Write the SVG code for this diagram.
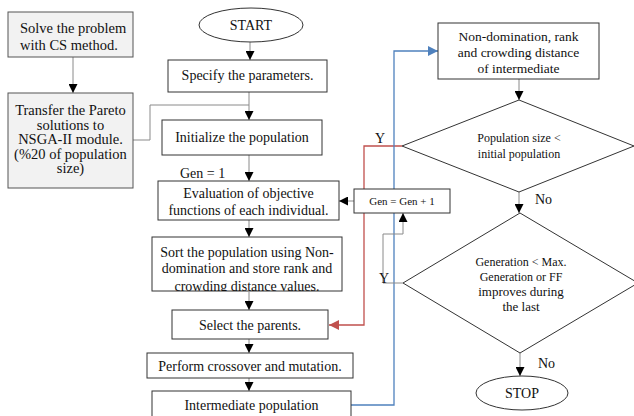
<svg xmlns="http://www.w3.org/2000/svg" width="634" height="416" viewBox="0 0 634 416">
<style>
text{font-family:'Liberation Serif','DejaVu Serif','Times New Roman',Times,serif;fill:#111;}
.t145{font-size:14.5px;}
.t14{font-size:14px;}
.t135{font-size:13.5px;}
.t13{font-size:13px;}
.t12{font-size:12px;}
.t11{font-size:11px;}
.c{text-anchor:middle;}
.box{fill:#fff;stroke:#333;stroke-width:1;}
.gbox{fill:#f2f2f2;stroke:#555;stroke-width:1;}
.ln{fill:none;stroke:#8a8a8a;stroke-width:1;}
.red{fill:none;stroke:#c0504d;stroke-width:1.3;}
.blue{fill:none;stroke:#4f81bd;stroke-width:1.3;}
</style>
<defs>
<marker id="ab" viewBox="0 0 10 10" refX="10" refY="5" markerWidth="9" markerHeight="9" markerUnits="userSpaceOnUse" orient="auto"><path d="M0,0 L10,5 L0,10 z" fill="#000"/></marker>
<marker id="ar" viewBox="0 0 10 10" refX="10" refY="5" markerWidth="10" markerHeight="10" markerUnits="userSpaceOnUse" orient="auto"><path d="M0,0 L10,5 L0,10 z" fill="#c0504d"/></marker>
<marker id="abl" viewBox="0 0 10 10" refX="10" refY="5" markerWidth="10" markerHeight="10" markerUnits="userSpaceOnUse" orient="auto"><path d="M0,0 L10,5 L0,10 z" fill="#4f81bd"/></marker>
<clipPath id="sortclip"><rect x="152" y="237" width="190" height="54"/></clipPath>
</defs>
<rect width="634" height="416" fill="#fff"/>
<g font-family="Liberation Serif, DejaVu Serif, serif">
<g id="connectors">
<path class="ln" d="M73,57 V93" marker-end="url(#ab)"/>
<path class="ln" d="M133,140 H150 V105 H249"/>
<path class="ln" d="M250,42 V60" marker-end="url(#ab)"/>
<path class="ln" d="M249,92 V120" marker-end="url(#ab)"/>
<path class="ln" d="M249,155 V181" marker-end="url(#ab)"/>
<path class="ln" d="M249,220 V237" marker-end="url(#ab)"/>
<path class="ln" d="M249,292 V310" marker-end="url(#ab)"/>
<path class="ln" d="M249,339 V353" marker-end="url(#ab)"/>
<path class="ln" d="M249,378 V391" marker-end="url(#ab)"/>
<path class="ln" d="M354,201 H339" marker-end="url(#ab)"/>
<path class="red" d="M402,146 H364 V325 H329" marker-end="url(#ar)"/>
<path class="blue" d="M351,405 H394 V51 H438" marker-end="url(#abl)"/>
<path class="ln" d="M403,283 H383 V234 H403 V213" marker-end="url(#ab)"/>
<path class="ln" d="M519,79 V100" marker-end="url(#ab)"/>
<path class="ln" d="M519,192 V213" marker-end="url(#ab)"/>
<path class="ln" d="M520,353 V376" marker-end="url(#ab)"/>
<text class="t14" x="375" y="143">Y</text>
<text class="t14" x="379" y="283">Y</text>
<text class="t14" x="535" y="204">No</text>
<text class="t14" x="538" y="368">No</text>
<text class="t14" x="180" y="178">Gen = 1</text>
</g>

<g id="solve">
<rect class="gbox" x="8" y="12" width="125" height="45"/>
<text class="t145" x="20" y="33">Solve the problem</text>
<text class="t145" x="20" y="50">with CS method.</text>
</g>

<g id="transfer">
<rect class="gbox" x="8" y="93" width="125" height="95"/>
<text class="t145 c" x="70.5" y="115">Transfer the Pareto</text>
<text class="t145 c" x="70.5" y="129.5">solutions to</text>
<text class="t145 c" x="70.5" y="144">NSGA-II module.</text>
<text class="t145 c" x="70.5" y="158.5">(%20 of population</text>
<text class="t145 c" x="70.5" y="173">size)</text>
</g>

<g id="start">
<ellipse class="box" cx="251" cy="25" rx="52" ry="17"/>
<text class="t14 c" x="251" y="30">START</text>
</g>

<g id="specify">
<rect class="box" x="168" y="60" width="159" height="32"/>
<text class="t14 c" x="247.5" y="80">Specify the parameters.</text>
</g>

<g id="initialize">
<rect class="box" x="162" y="120" width="160" height="35"/>
<text class="t14 c" x="242" y="142">Initialize the population</text>
</g>

<g id="evaluation">
<rect class="box" x="158" y="181" width="181" height="39"/>
<text class="t14 c" x="248.5" y="198">Evaluation of objective</text>
<text class="t14 c" x="248.5" y="215">functions of each individual.</text>
</g>

<g id="sort">
<rect class="box" x="152" y="237" width="190" height="54"/>
<text class="t14 c" x="247" y="257">Sort the population using Non-</text>
<text class="t14 c" x="247" y="273">domination and store rank and</text>
<text class="t14 c" x="247" y="291" clip-path="url(#sortclip)">crowding distance values.</text>
</g>

<g id="select">
<rect class="box" x="172" y="310" width="156" height="29"/>
<text class="t14 c" x="250" y="330">Select the parents.</text>
</g>

<g id="perform">
<rect class="box" x="147" y="353" width="206" height="25"/>
<text class="t14 c" x="250" y="371">Perform crossover and mutation.</text>
</g>

<g id="intermediate">
<rect class="box" x="152" y="391" width="199" height="30"/>
<text class="t14 c" x="251.5" y="410">Intermediate population</text>
</g>

<g id="gen-inc">
<rect class="box" x="354" y="189" width="96" height="24"/>
<text class="t11 c" x="402" y="205">Gen = Gen + 1</text>
</g>

<g id="nondom">
<rect class="box" x="438" y="23" width="161" height="56"/>
<text class="t135 c" x="518.5" y="41">Non-domination, rank</text>
<text class="t135 c" x="518.5" y="57">and crowding distance</text>
<text class="t135 c" x="518.5" y="73">of intermediate</text>
</g>

<g id="popsize">
<path class="box" d="M519,100 L634,146 L519,192 L402,146 Z"/>
<text class="t12 c" x="519" y="142">Population size &lt;</text>
<text class="t12 c" x="519" y="158">initial population</text>
</g>

<g id="generation">
<path class="box" d="M520,213 L638,283 L520,353 L403,283 Z"/>
<text class="t12 c" x="521" y="266">Generation &lt; Max.</text>
<text class="t12 c" x="521" y="281">Generation or FF</text>
<text class="t13 c" x="521" y="296">improves during</text>
<text class="t13 c" x="521" y="311">the last</text>
</g>

<g id="stop">
<ellipse class="box" cx="522" cy="393" rx="46" ry="17"/>
<text class="t14 c" x="522" y="398">STOP</text>
</g>
</g>
</svg>
